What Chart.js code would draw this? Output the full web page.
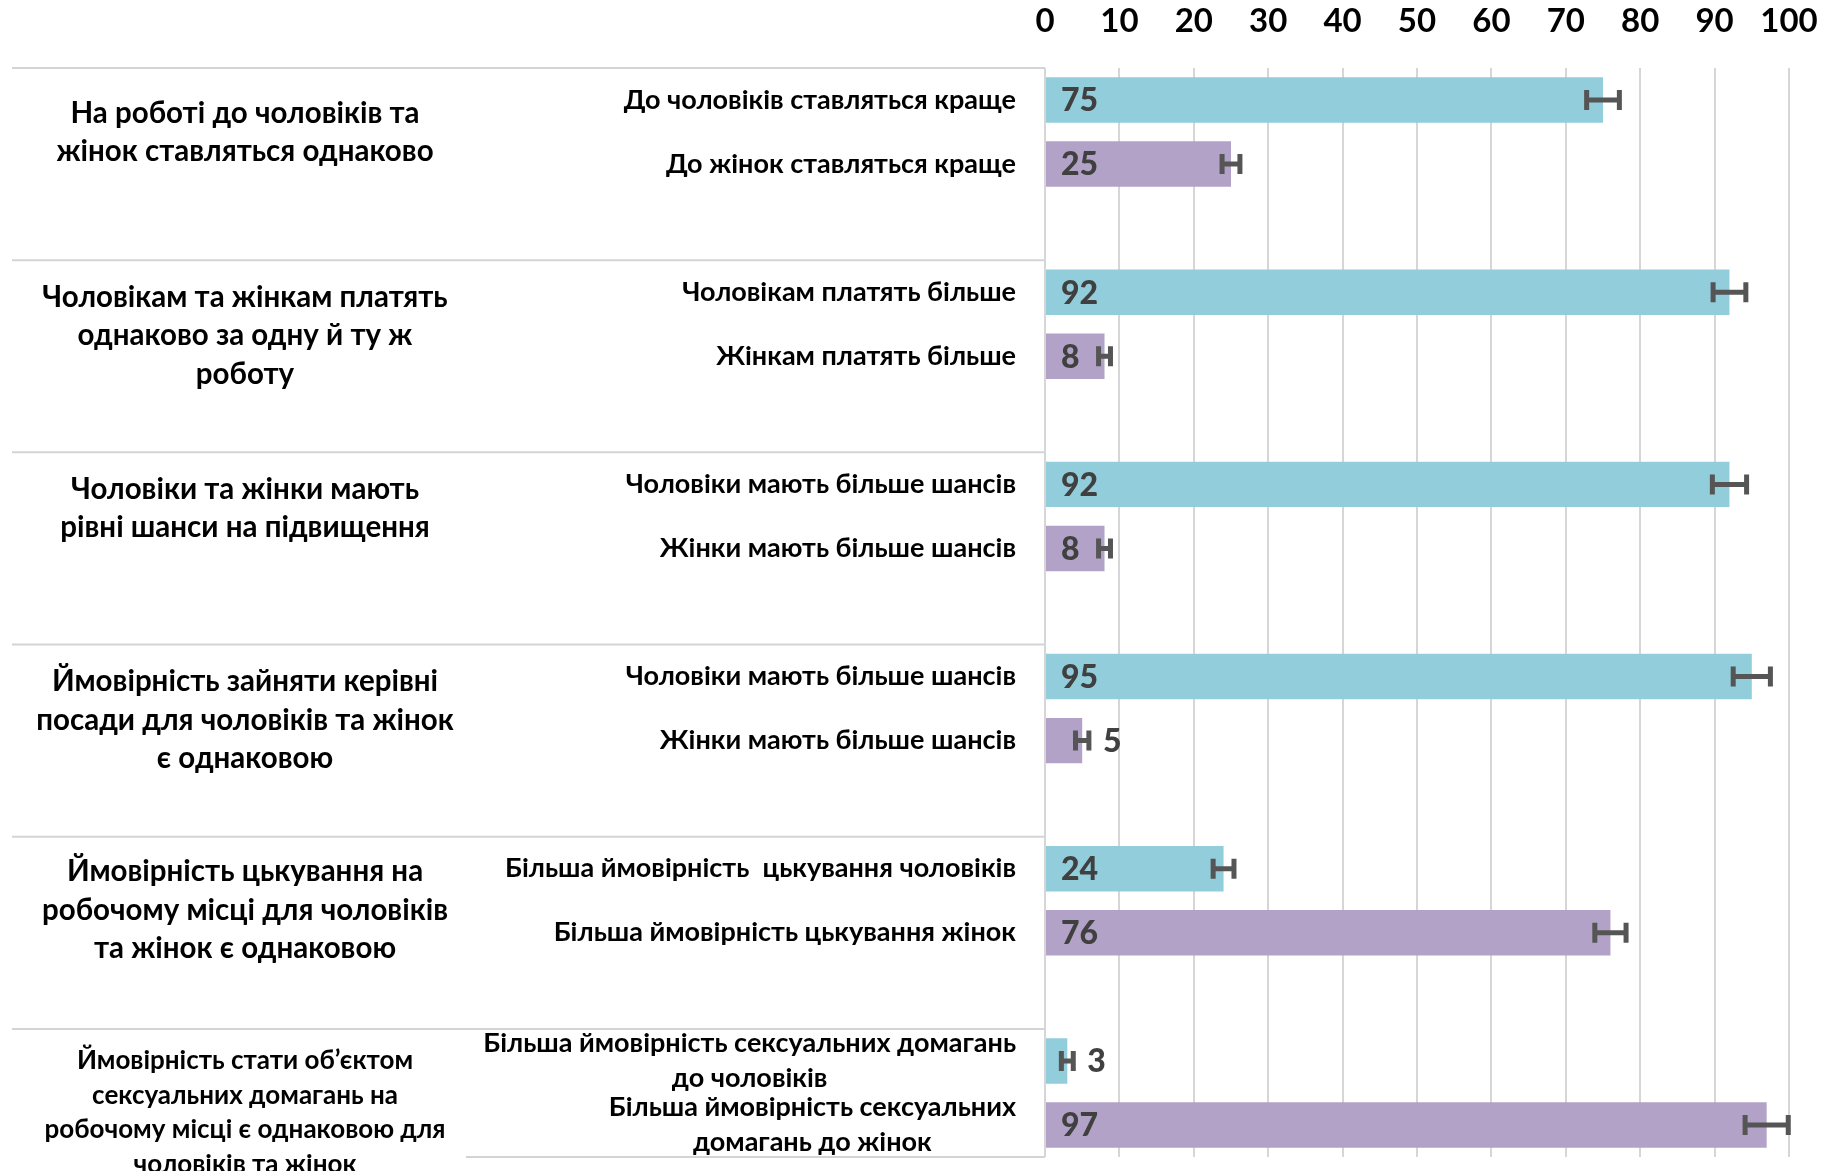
<!DOCTYPE html>
<html lang="uk">
<head>
<meta charset="utf-8">
<script src="https://cdn.jsdelivr.net/npm/chart.js@4.4.1/dist/chart.umd.min.js"></script>
<style>
html, body { margin: 0; padding: 0; background: #fff; }
#wrap { width: 1832px; height: 1171px; }
</style>
</head>
<body>
<div id="wrap"><canvas id="canva" width="1832" height="1171"></canvas></div>
<script>
const topics = [
    ["На роботі до чоловіків та", "жінок ставляться однаково"],
    ["Чоловікам та жінкам платять", "однаково за одну й ту ж", "роботу"],
    ["Чоловіки та жінки мають", "рівні шанси на підвищення"],
    ["Ймовірність зайняти керівні", "посади для чоловіків та жінок", "є однаковою"],
    ["Ймовірність цькування на", "робочому місці для чоловіків", "та жінок є однаковою"],
    ["Ймовірність стати об’єктом", "сексуальних домагань на", "робочому місці є однаковою для", "чоловіків та жінок"]
];
const menLabels = [
    ["До чоловіків ставляться краще"],
    ["Чоловікам платять більше"],
    ["Чоловіки мають більше шансів"],
    ["Чоловіки мають більше шансів"],
    ["Більша ймовірність  цькування чоловіків"],
    ["Більша ймовірність сексуальних домагань", "до чоловіків"]
];
const womenLabels = [
    ["До жінок ставляться краще"],
    ["Жінкам платять більше"],
    ["Жінки мають більше шансів"],
    ["Жінки мають більше шансів"],
    ["Більша ймовірність цькування жінок"],
    ["Більша ймовірність сексуальних", "домагань до жінок"]
];
const menValues = [75, 92, 92, 95, 24, 3];
const womenValues = [25, 8, 8, 5, 76, 97];
const menErrors = [2.2, 2.2, 2.3, 2.5, 1.4, 0.8];
const womenErrors = [1.2, 0.8, 0.8, 0.9, 2.1, 2.9];
const xTicks = [0, 10, 20, 30, 40, 50, 60, 70, 80, 90, 100];

const FONT = 'Lato, "Open Sans", sans-serif';
// small vertical nudge of each topic title block (px)
const topicShift = [8, 0, 0, 0, -2, -5];

// 3 rows per topic (men, women, empty), last topic without the empty row
let labels = [];
let menData = [], womenData = [], menErr = [], womenErr = [];
topics.forEach((t, g) => {
    labels.push(menLabels[g], womenLabels[g]);
    menData.push(menValues[g], null);
    womenData.push(null, womenValues[g]);
    menErr.push(menErrors[g], null);
    womenErr.push(null, womenErrors[g]);
    if (g < topics.length - 1) {
        labels.push([""]);
        menData.push(null);
        womenData.push(null);
        menErr.push(null);
        womenErr.push(null);
    }
});

const decor = {
    id: "decor",
    afterDatasetsDraw(chart) {
        const ctx = chart.ctx;
        const x = chart.scales.x;
        chart.data.datasets.forEach((ds, di) => {
            const meta = chart.getDatasetMeta(di);
            ds.data.forEach((v, i) => {
                if (v === null) return;
                const e = ds.errors[i];
                const yc = meta.data[i].y;
                const x1 = x.getPixelForValue(v - e);
                const x2 = x.getPixelForValue(v + e);
                ctx.save();
                ctx.strokeStyle = "#555555";
                ctx.lineWidth = 5;
                ctx.beginPath();
                ctx.moveTo(x1, yc); ctx.lineTo(x2, yc);
                ctx.moveTo(x1, yc - 10); ctx.lineTo(x1, yc + 10);
                ctx.moveTo(x2, yc - 10); ctx.lineTo(x2, yc + 10);
                ctx.stroke();
                ctx.fillStyle = "#404040";
                ctx.font = "900 32px " + FONT;
                ctx.textBaseline = "middle";
                ctx.textAlign = "left";
                const lx = v >= 7 ? x.getPixelForValue(0) + 16 : x2 + 14;
                ctx.fillText(String(v), lx, yc + 1);
                ctx.restore();
            });
        });
    },
    afterDraw(chart) {
        const ctx = chart.ctx;
        const x = chart.scales.x;
        const y = chart.scales.y;
        const slot = y.height / labels.length;
        ctx.save();
        // separators
        ctx.strokeStyle = "#d4d4d4";
        ctx.lineWidth = 2;
        topics.forEach((t, g) => {
            const yy = y.top + 3 * g * slot;
            ctx.beginPath();
            ctx.moveTo(12, yy); ctx.lineTo(x.left, yy);
            ctx.stroke();
        });
        ctx.beginPath();
        ctx.moveTo(466, y.bottom); ctx.lineTo(x.left, y.bottom);
        ctx.stroke();
        // topic titles
        ctx.fillStyle = "#000";
        ctx.textAlign = "center";
        ctx.textBaseline = "middle";
        topics.forEach((t, g) => {
            const last = g === topics.length - 1;
            ctx.font = "bold " + (last ? 26 : 29.5) + "px " + FONT;
            const lh = last ? 34.5 : 38.6;
            const top = y.top + 3 * g * slot + 37 + topicShift[g];
            t.forEach((line, k) => ctx.fillText(line, 245, top + k * lh));
        });
        // row labels
        ctx.font = "bold 27px " + FONT;
        labels.forEach((lines, i) => {
            if (!lines[0]) return;
            const yc = y.getPixelForValue(i);
            const w = Math.max(...lines.map(l => ctx.measureText(l).width));
            const cx = x.left - 29 - w / 2;
            const lh = 34.5;
            lines.forEach((l, k) => ctx.fillText(l, cx, yc - (lines.length - 1) * lh / 2 + k * lh));
        });
        ctx.restore();
    }
};

const ctx = document.getElementById("canva").getContext("2d");
const chart = new Chart(ctx, {
    type: "bar",
    data: {
        labels: labels,
        datasets: [{
            label: "Чоловіки",
            data: menData,
            errors: menErr,
            backgroundColor: "#92CDDC"
        }, {
            label: "Жінки",
            data: womenData,
            errors: womenErr,
            backgroundColor: "#B3A2C7"
        }]
    },
    options: {
        indexAxis: "y",
        responsive: false,
        animation: false,
        skipNull: true,
        categoryPercentage: 1,
        barPercentage: 0.71,
        layout: { padding: { left: 1045, right: 43, top: 0, bottom: 14 } },
        plugins: { legend: { display: false }, tooltip: { enabled: false } },
        scales: {
            x: {
                position: "top",
                min: 0,
                max: 100,
                afterBuildTicks: s => { s.ticks = xTicks.map(v => ({ value: v })); },
                afterFit: s => { s.height = 68; s.paddingLeft = 0; s.paddingRight = 0; },
                grid: { color: "#d6d6d6", lineWidth: 2, drawTicks: false },
                border: { display: false },
                ticks: {
                    color: "#000",
                    padding: 27,
                    font: { family: FONT, size: 33, weight: "bold" }
                }
            },
            y: {
                display: false
            }
        }
    },
    plugins: [decor]
});
</script>
</body>
</html>
